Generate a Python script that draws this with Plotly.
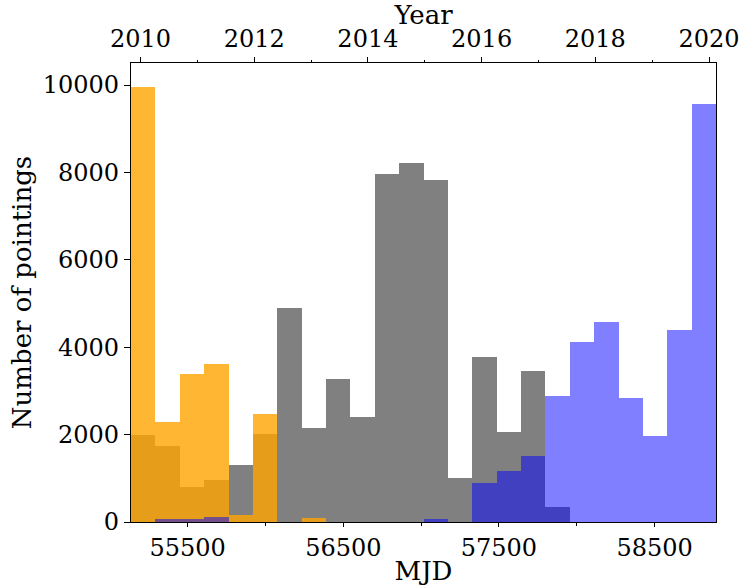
import plotly.graph_objects as go

# ---- data (counts per MJD bin) ----
bin_start = 55136.0      # MJD of first bin edge
bin_width = 156.6        # MJD per bin
n_bins = 24

grey_counts = [1980, 1730, 800, 960, 1295, 2005, 4905, 2140, 3280, 2410, 7975, 8225,
               7835, 1015, 3785, 2070, 3465, 350, 0, 0, 0, 0, 0, 0]
orange_counts = [9960, 2300, 3395, 3625, 150, 2480, 0, 100, 0, 0, 0, 0,
                 0, 0, 0, 0, 0, 0, 0, 0, 0, 0, 0, 0]
blue_counts = [0, 77, 77, 105, 0, 0, 0, 0, 0, 0, 0, 0,
               77, 0, 900, 1175, 1518, 2892, 4129, 4587, 2846, 1976, 4388, 9556]

mjd_ticks = [55500, 56500, 57500, 58500]
mjd_minor = [56000, 57000, 58000]
year_ticks = [2010, 2012, 2014, 2016, 2018, 2020]
year_minor = [2011, 2013, 2015, 2017, 2019]
y_ticks = [0, 2000, 4000, 6000, 8000, 10000]

# ---- scales ----
edges = [bin_start + i * bin_width for i in range(n_bins + 1)]
centers = [(edges[i] + edges[i + 1]) / 2 for i in range(n_bins)]
x_lo, x_hi = edges[0], edges[-1]


def mjd_to_year(m):
    return 2000.0 + (m - 51544.5) / 365.25


FONT = "DejaVu Serif"
FS_TICK = 24
FS_TITLE = 26

fig = go.Figure()
fig.add_trace(go.Bar(x=centers, y=grey_counts, width=bin_width,
                     marker=dict(color="#808080", line=dict(width=0)),
                     name="grey", showlegend=False))
fig.add_trace(go.Bar(x=centers, y=orange_counts, width=bin_width,
                     marker=dict(color="rgba(255,165,0,0.8)", line=dict(width=0)),
                     name="orange", showlegend=False))
fig.add_trace(go.Bar(x=centers, y=blue_counts, width=bin_width,
                     marker=dict(color="rgba(0,0,255,0.5)", line=dict(width=0)),
                     name="blue", showlegend=False))
# invisible trace to anchor the top (year) axis
fig.add_trace(go.Scatter(x=[mjd_to_year(x_lo), mjd_to_year(x_hi)], y=[0, 0],
                         xaxis="x2", mode="markers", marker=dict(opacity=0),
                         hoverinfo="skip", showlegend=False))

fig.update_layout(
    width=742, height=588,
    margin=dict(l=131, r=26, t=63, b=66, autoexpand=False),
    paper_bgcolor="white", plot_bgcolor="white",
    barmode="overlay", bargap=0,
    font=dict(family=FONT, size=FS_TICK, color="black"),
    xaxis=dict(
        range=[x_lo, x_hi], tickvals=mjd_ticks, tickformat="d", ticks="outside", ticklen=4,
        tickcolor="black", showline=True, linecolor="black", linewidth=1.3,
        mirror=False, showgrid=False, zeroline=False, automargin=False,
        minor=dict(tickvals=mjd_minor, ticks="outside", ticklen=2.5, tickcolor="black"),
        title=dict(text="MJD", font=dict(family=FONT, size=FS_TITLE), standoff=0),
        tickfont=dict(family=FONT, size=FS_TICK),
    ),
    xaxis2=dict(
        range=[mjd_to_year(x_lo), mjd_to_year(x_hi)], overlaying="x", side="top",
        anchor="y", tickvals=year_ticks, tickformat="d", ticks="outside", ticklen=4.5,
        tickcolor="black", ticklabelstandoff=1, automargin=False,
        showline=True, linecolor="black", linewidth=1.3, showgrid=False, zeroline=False,
        minor=dict(tickvals=year_minor, ticks="outside", ticklen=2, tickcolor="black"),
        title=dict(text="Year", font=dict(family=FONT, size=FS_TITLE), standoff=0),
        tickfont=dict(family=FONT, size=FS_TICK),
    ),
    yaxis=dict(
        range=[0, 10504], tickvals=y_ticks, tickformat="d", ticks="outside", ticklen=6,
        tickcolor="black", ticklabelstandoff=0, automargin=False,
        showline=True, linecolor="black", linewidth=1.3,
        mirror=True, showgrid=False, zeroline=False,
        title=dict(text="Number of pointings", font=dict(family=FONT, size=FS_TITLE),
                   standoff=3),
        tickfont=dict(family=FONT, size=FS_TICK),
    ),
)

fig.write_html("out.html",
               config={"displayModeBar": False},
               post_script="document.body.style.margin='0';document.body.style.padding='0';")
